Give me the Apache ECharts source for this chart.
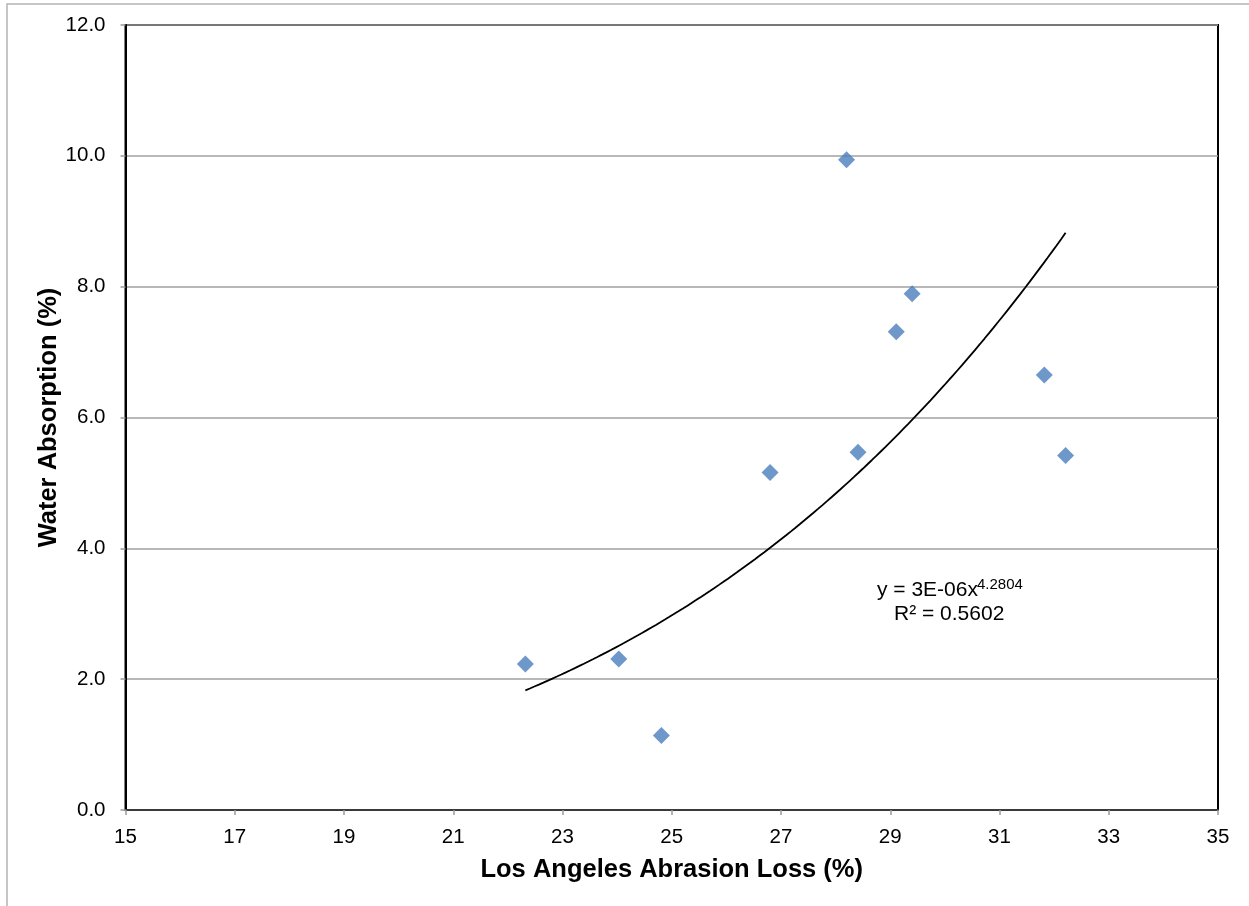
<!DOCTYPE html>
<html>
<head>
<meta charset="utf-8">
<script src="https://cdn.jsdelivr.net/npm/echarts@6/dist/echarts.min.js"></script>
<style>
  html, body { margin: 0; padding: 0; background: #fff; }
  #chart { width: 1249px; height: 906px; }
</style>
</head>
<body>
<div id="chart"></div>
<script>
// Los Angeles abrasion loss (%) vs. water absorption (%) for each aggregate sample
const abrasionLoss = [22.32, 24.03, 24.81, 26.80, 28.20, 28.41, 29.11, 29.40, 31.82, 32.21];
const waterAbsorption = [2.23, 2.31, 1.14, 5.16, 9.94, 5.47, 7.31, 7.89, 6.65, 5.42];

const xTicks = { min: 15, max: 35, interval: 2 };
const yTicks = { min: 0, max: 12, interval: 2 };

const xTitle = 'Los Angeles Abrasion Loss (%)';
const yTitle = 'Water Absorption (%)';
const eqMain = 'y = 3E-06x';
const eqExp = '4.2804';
const eqR2 = 'R\u00b2 = 0.5602';

// Power trendline y = a·x^b, least squares on ln(x), ln(y)
function powerFit(xs, ys) {
  const n = xs.length;
  const lx = xs.map(Math.log), ly = ys.map(Math.log);
  const mx = lx.reduce((s, v) => s + v, 0) / n;
  const my = ly.reduce((s, v) => s + v, 0) / n;
  let sxy = 0, sxx = 0;
  for (let i = 0; i < n; i++) {
    sxy += (lx[i] - mx) * (ly[i] - my);
    sxx += (lx[i] - mx) * (lx[i] - mx);
  }
  const b = sxy / sxx;
  const a = Math.exp(my - b * mx);
  return { a, b };
}
const fit = powerFit(abrasionLoss, waterAbsorption);
const xLo = Math.min(...abrasionLoss), xHi = Math.max(...abrasionLoss);
const trend = [];
const steps = 120;
for (let i = 0; i <= steps; i++) {
  const x = xLo + (xHi - xLo) * i / steps;
  trend.push([x, fit.a * Math.pow(x, fit.b)]);
}

const points = abrasionLoss.map((x, i) => [x, waterAbsorption[i]]);
const font = '"Liberation Sans", Arial, sans-serif';

const chart = echarts.init(document.getElementById('chart'), null, { renderer: 'canvas' });
chart.setOption({
  backgroundColor: '#ffffff',
  animation: false,
  textStyle: { fontFamily: font },
  grid: {
    left: 125.5, right: 31, top: 25, bottom: 96,
    show: true, borderColor: '#000000', borderWidth: 2, backgroundColor: 'transparent'
  },
  xAxis: {
    type: 'value',
    min: xTicks.min, max: xTicks.max, interval: xTicks.interval,
    name: xTitle, nameLocation: 'middle', nameGap: 47,
    nameTextStyle: { fontFamily: font, fontSize: 25.5, fontWeight: 'bold', color: '#000' },
    axisLine: { show: true, onZero: false, lineStyle: { color: '#3a3a3a', width: 2 } },
    axisTick: { show: true, inside: false, length: 5, lineStyle: { color: '#9a9a9a', width: 1.5 } },
    axisLabel: { fontFamily: font, fontSize: 20.5, color: '#000', margin: 17 },
    splitLine: { show: false }
  },
  yAxis: {
    type: 'value',
    min: yTicks.min, max: yTicks.max, interval: yTicks.interval,
    name: yTitle, nameLocation: 'middle', nameGap: 64, nameMoveOverlap: false,
    nameTextStyle: { fontFamily: font, fontSize: 25.5, fontWeight: 'bold', color: '#000' },
    axisLine: { show: true, onZero: false, lineStyle: { color: '#000', width: 2 } },
    axisTick: { show: true, inside: false, length: 5, lineStyle: { color: '#9a9a9a', width: 1.5 } },
    axisLabel: { fontFamily: font, fontSize: 20.5, color: '#000', margin: 20, formatter: v => v.toFixed(1) },
    splitLine: { show: true, lineStyle: { color: '#a0a0a0', width: 1.5 } }
  },
  series: [
    {
      type: 'line',
      data: trend,
      showSymbol: false,
      smooth: false,
      lineStyle: { color: '#000', width: 1.8 },
      silent: true,
      z: 2
    },
    {
      type: 'scatter',
      data: points,
      symbol: 'diamond',
      symbolSize: [17, 17],
      itemStyle: { color: '#4a7ebb' },
      z: 3
    }
  ],
  graphic: [
    {
      type: 'rect', silent: true, z: -1,
      shape: { x: 7, y: 4, width: 1300, height: 1000 },
      style: { fill: 'none', stroke: '#b4b4b4', lineWidth: 1.5 }
    },
    {
      type: 'text', left: 877, top: 580,
      style: { text: eqMain, font: '21px ' + font, fill: '#000' }
    },
    {
      type: 'text', left: 977, top: 577,
      style: { text: eqExp, font: '15px ' + font, fill: '#000' }
    },
    {
      type: 'text', left: 894, top: 604,
      style: { text: eqR2, font: '21px ' + font, fill: '#000' }
    }
  ]
});
</script>
</body>
</html>
